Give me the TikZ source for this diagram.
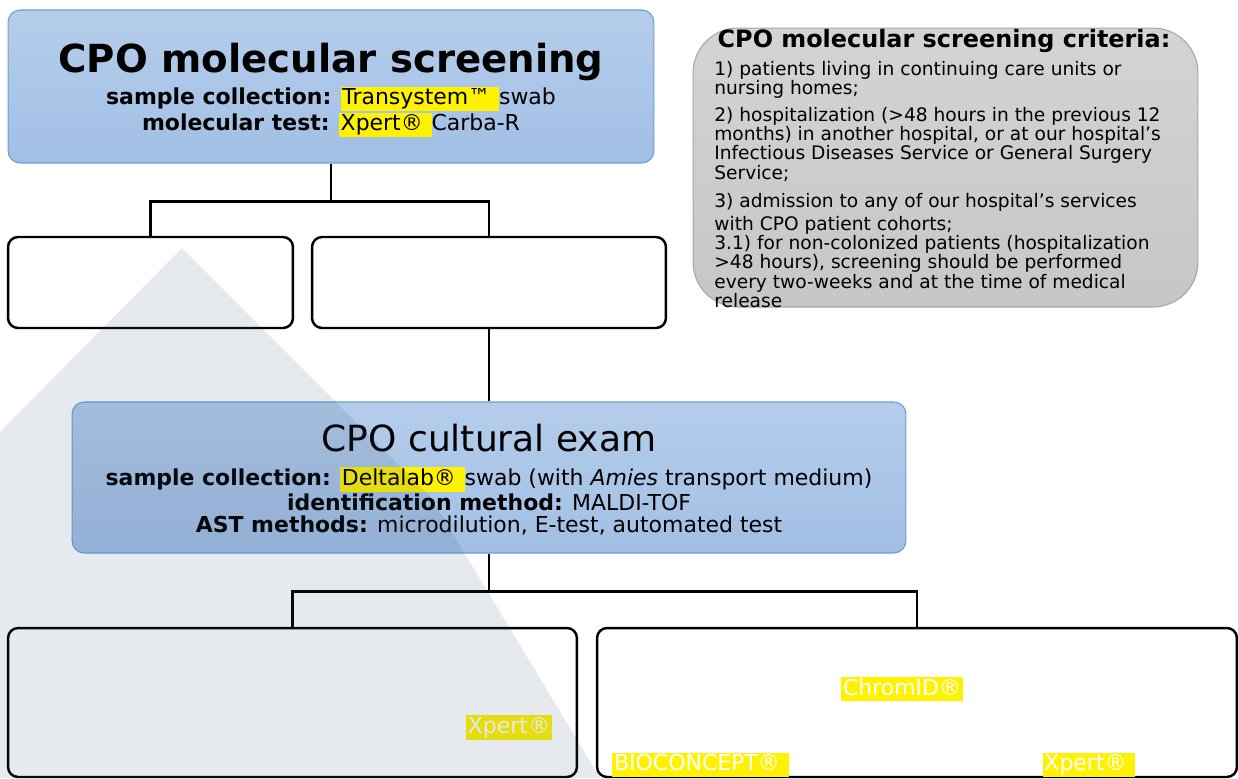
\documentclass[tikz,border=0pt]{standalone}
\usepackage{fontspec}
\setmainfont{DejaVu Sans}
\usepackage{tikz}
\usetikzlibrary{positioning}
\definecolor{bluetop}{HTML}{B5CDEB}
\definecolor{bluebot}{HTML}{A1BFE4}
\definecolor{boxedge}{HTML}{6C9CD6}
\definecolor{greytop}{HTML}{D4D4D4}
\definecolor{greybot}{HTML}{C6C6C6}
\definecolor{greyedge}{HTML}{A6A6A6}
\definecolor{marktone}{RGB}{46,72,113}
\newcommand{\hl}[1]{{\setlength{\fboxsep}{1pt}\colorbox{yellow}{\vphantom{Xpg}#1}}}
\newcommand{\hlw}[1]{\hl{\textcolor{white}{#1}}}

\begin{document}
\begin{tikzpicture}[x=0.02cm,y=-0.02cm,
	bluebox/.style={draw=boxedge,line width=0.6pt,rounded corners=0.24cm,top color=bluetop,bottom color=bluebot,inner sep=0pt},
	greybox/.style={draw=greyedge,line width=0.6pt,rounded corners=0.9cm,top color=greytop,bottom color=greybot,inner sep=0pt},
	emptybox/.style={draw=black,line width=1.4pt,rounded corners=0.2cm,inner sep=0pt},
	link/.style={line width=1.4pt}]
	\useasboundingbox (0,0) rectangle (1238,778);
	\node[bluebox,minimum width=12.92cm,minimum height=3.06cm] (screen) at (331,86.5) {};
	\node[greybox,minimum width=10.1cm,minimum height=5.58cm] (criteria) at (945.5,167.5) {};
	\node[emptybox,minimum width=5.7cm,minimum height=1.82cm] (midleft) at (150.5,282.5) {};
	\node[emptybox,minimum width=7.08cm,minimum height=1.82cm] (midright) at (489,282.5) {};
	\node[bluebox,minimum width=16.68cm,minimum height=3.02cm] (culture) at (489,477.5) {};
	\node[emptybox,minimum width=11.38cm,minimum height=2.98cm] (botleft) at (292.5,702.5) {};
	\node[emptybox,minimum width=12.8cm,minimum height=2.98cm] (botright) at (917,702.5) {};

	\node[font=\fontsize{22}{26}\selectfont\bfseries] (screentitle) at (331,62) {CPO molecular screening};
	\node[font=\fontsize{12.5}{12.7}\selectfont,align=center] (screeninfo) at (331,112)
		{\textbf{sample collection:} \hl{Transystem™\ }swab\\
		\textbf{molecular test:} \hl{Xpert®\ }Carba-R};
	\node[font=\fontsize{20.5}{24}\selectfont] (culturetitle) at (489,438) {CPO cultural exam};
	\node[font=\fontsize{12.5}{12.8}\selectfont,align=center] (cultureinfo) at (489,501)
		{\textbf{sample collection:} \hl{Deltalab®\ }swab (with \textit{Amies} transport medium)\\
		\textbf{identification method:} MALDI-TOF\\
		\textbf{AST methods:} microdilution, E-test, automated test};
	\node[font=\fontsize{13.6}{16}\selectfont\bfseries] (criteriatitle) at (944,41) {CPO molecular screening criteria:};
	\node[font=\fontsize{10.6}{11}\selectfont,align=left,anchor=north west,inner sep=0pt] (criterialist) at (714,61)
		{1) patients living in continuing care units or\\
		nursing homes;\\[4pt]
		2) hospitalization (>48 hours in the previous 12\\
		months) in another hospital, or at our hospital’s\\
		Infectious Diseases Service or General Surgery\\
		Service;\\[5pt]
		3) admission to any of our hospital’s services\\[2pt]
		with CPO patient cohorts;\\
		3.1) for non-colonized patients (hospitalization\\
		>48 hours), screening should be performed\\
		every two-weeks and at the time of medical\\
		release};

	\node[font=\fontsize{12.5}{14}\selectfont,inner sep=0pt] (xpertleft) at (509,727.5) {\hlw{Xpert®}};
	\node[font=\fontsize{12.5}{14}\selectfont,inner sep=0pt] (chromid) at (902,689) {\hlw{ChromID®}};
	\node[font=\fontsize{12.5}{14}\selectfont,inner sep=0pt] (bioconcept) at (700.5,765) {\hlw{BIOCONCEPT®\ }};
	\node[font=\fontsize{12.5}{14}\selectfont,inner sep=0pt] (xpertright) at (1089,765) {\hlw{Xpert®\ }};

	\draw[link] (screen.south) -- ++(0,38) -| (midleft.north);
	\draw[link] (screen.south) -- ++(0,38) -| (midright.north);
	\draw[link] (midright.south) -- (culture.north);
	\draw[link] (culture.south) -- ++(0,38) -| (botleft.north);
	\draw[link] (culture.south) -- ++(0,38) -| (botright.north);

	\fill[marktone,fill opacity=0.12] (182,248) -- (430,496) -- (600,778) -- (0,778) -- (0,432) -- cycle;
\end{tikzpicture}
\end{document}
